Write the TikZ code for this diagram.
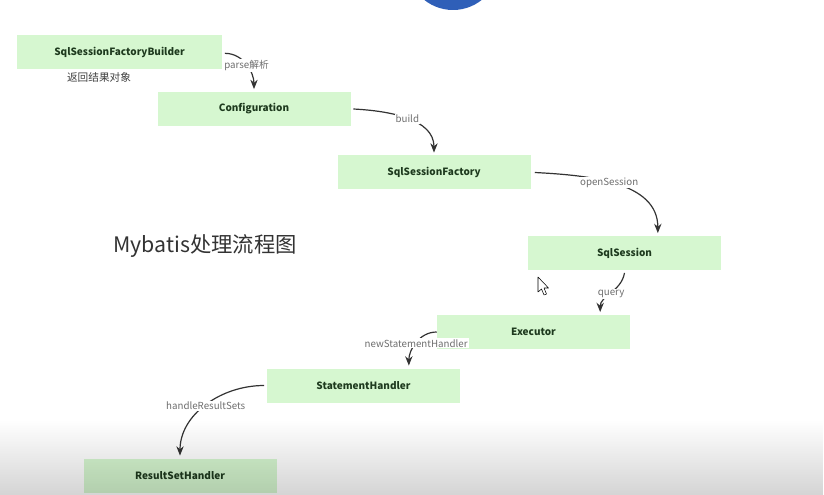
\documentclass[tikz,border=0pt]{standalone}
\usepackage{fontspec}
\setmainfont{Noto Sans CJK SC}
\usetikzlibrary{arrows.meta,fadings}
\definecolor{boxfill}{HTML}{D6F7D0}
\definecolor{boxtext}{HTML}{1E3A1E}
\definecolor{linec}{HTML}{333333}
\definecolor{labc}{HTML}{6E6E6E}
\definecolor{dotblue}{HTML}{2F5FB8}
\tikzfading[name=fadeup, top color=transparent!100, bottom color=transparent!0]
\tikzset{
  stepbox/.style={fill=boxfill, minimum width=144.75pt, minimum height=25.5pt, inner sep=0pt,
    font=\fontsize{7.5}{9}\selectfont\bfseries, text=boxtext},
  elabel/.style={fill=white, inner sep=0.8pt, font=\fontsize{7.3}{9}\selectfont, text=labc},
  flow/.style={draw=linec, line width=0.9pt, shorten >=2pt, -{Stealth[length=7pt,width=5.5pt]}}
}
\begin{document}
\begin{tikzpicture}[x=0.75pt,y=-0.75pt]
\useasboundingbox (0,0) rectangle (824,495);
\clip (0,0) rectangle (824,495);
\fill[white] (0,0) rectangle (824,495);
\fill[dotblue] (453,-36) circle[radius=46];

\node[stepbox, minimum width=153.75pt] (b1) at (119.5,52) {SqlSessionFactoryBuilder};
\node[stepbox] (b2) at (254,109) {Configuration};
\node[stepbox] (b3) at (434,172.5) {SqlSessionFactory};
\node[stepbox] (b4) at (624.5,253) {SqlSession};
\node[stepbox] (b5) at (533.5,332) {Executor};
\node[stepbox] (b6) at (363.5,385.5) {StatementHandler};
\node[stepbox] (b7) at (180,475.5) {ResultSetHandler};

\node[font=\fontsize{8}{9}\selectfont, text=black!75] (ret) at (99,77) {返回结果对象};
\node[font=\fontsize{16}{18}\selectfont, text=black!80] (title) at (205,246) {Mybatis处理流程图};

\draw[flow] ([xshift=2pt,yshift=-1pt]b1.east) to[out=0,in=90] node[elabel,pos=0.5] {parse解析} (b2.north);
\draw[flow] ([xshift=2pt]b2.east) to[out=-3,in=90] node[elabel,pos=0.5] {build} (b3.north);
\draw[flow] ([xshift=3pt]b3.east) to[out=-3,in=90] node[elabel,pos=0.45] {openSession} ([xshift=25pt]b4.north);
\draw[flow] ([yshift=-2pt]b4.south) to[out=-100,in=90] node[elabel,pos=0.5] {query} ([xshift=50pt]b5.north);
\draw[flow] (b5.west) to[out=180,in=90] node[elabel,pos=0.5] {newStatementHandler} ([xshift=34pt]b6.north);
\draw[flow] ([xshift=-2pt]b6.west) to[out=180,in=90] node[elabel,pos=0.5] {handleResultSets} (b7.north);

% mouse cursor
\draw[fill=white, draw=black, line width=0.4pt, line join=round]
  (538,277) -- (538,292) -- (541.5,289) -- (544,295) -- (546.5,294) -- (544,288) -- (548.5,288) -- cycle;

% bottom grey gradient of the screen capture
\fill[black, fill opacity=0.17, path fading=fadeup] (0,420) rectangle (824,495);
\end{tikzpicture}
\end{document}
